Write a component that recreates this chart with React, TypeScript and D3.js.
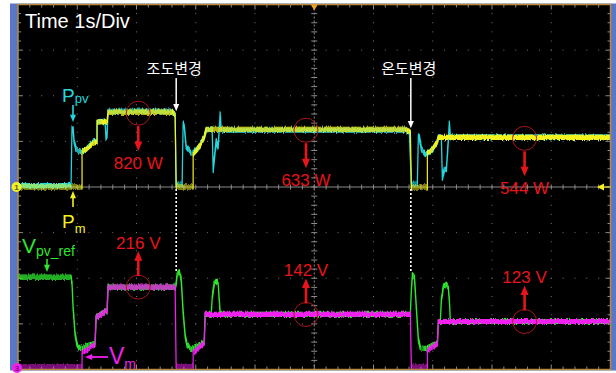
import React from 'react';
import * as d3 from 'd3';

// ---- Trace data: [time (s), value] ----
// P_pv (cyan), W
const ppvTrace: [number, number][] = [
  [0, 15], [0.895, 15], [0.912, 650], [0.93, 640], [0.946, 500], [0.98, 420], [1.047, 380],
  [1.081, 385], [1.166, 425], [1.267, 495], [1.334, 500], [1.334, 715], [1.47, 725],
  [1.486, 540], [1.503, 560], [1.52, 830], [2.6, 832], [2.652, 790], [2.669, 30],
  [2.77, 35], [2.787, 690], [2.804, 680], [2.838, 440], [2.92, 370], [2.956, 375],
  [3.04, 430], [3.142, 545], [3.176, 622], [3.277, 640], [3.294, 180], [3.328, 400],
  [3.345, 510], [3.378, 430], [3.412, 810], [3.429, 622], [6.537, 622], [6.605, 600],
  [6.639, 30], [6.74, 35], [6.757, 560], [6.774, 550], [6.808, 420], [6.875, 365],
  [6.909, 368], [6.99, 410], [7.078, 495], [7.095, 550], [7.145, 550], [7.162, 95],
  [7.196, 200], [7.23, 190], [7.264, 520], [7.28, 700], [7.297, 550], [10, 550],
];
// P_m (yellow), W
const pmTrace: [number, number][] = [
  [0, 0], [1.081, 0], [1.081, 380], [1.166, 420], [1.267, 480], [1.334, 490], [1.334, 710],
  [1.486, 720], [1.503, 722], [1.52, 820], [2.6, 820], [2.652, 795], [2.669, 0],
  [2.956, 0], [2.956, 360], [3.04, 420], [3.142, 540], [3.176, 633], [6.537, 633],
  [6.605, 610], [6.622, 600], [6.639, 0], [6.909, 0], [6.909, 368], [6.99, 410],
  [7.078, 500], [7.095, 544], [10, 544],
];
// V_pv_ref (green), V
const vrefTrace: [number, number][] = [
  [0, 243], [0.895, 243], [0.912, 225], [0.93, 160], [0.963, 90], [0.997, 60], [1.047, 50],
  [1.081, 52], [1.166, 58], [1.3, 64], [1.318, 134], [1.47, 152], [1.503, 152], [1.52, 216],
  [2.652, 216], [2.669, 225], [2.686, 250], [2.72, 258], [2.753, 240], [2.787, 150],
  [2.821, 85], [2.855, 58], [2.922, 50], [3.142, 66], [3.159, 142], [3.26, 142],
  [3.277, 185], [3.311, 225], [3.345, 232], [3.378, 226], [3.395, 185], [3.412, 142],
  [6.622, 142], [6.639, 210], [6.656, 250], [6.69, 243], [6.723, 160], [6.757, 75],
  [6.79, 52], [6.875, 50], [7.078, 65], [7.095, 123], [7.128, 123], [7.145, 180],
  [7.179, 218], [7.23, 224], [7.264, 215], [7.28, 180], [7.297, 123], [10, 123],
];
// V_m (magenta), V
const vmTrace: [number, number][] = [
  [0, 0], [1.081, 0], [1.081, 38], [1.3, 60], [1.318, 132], [1.47, 150], [1.503, 150],
  [1.52, 216], [2.652, 216], [2.669, 0], [2.956, 0], [2.956, 40], [3.142, 65],
  [3.159, 142], [6.622, 142], [6.639, 0], [6.909, 0], [6.909, 45], [7.078, 62],
  [7.095, 123], [10, 123],
];

// ---- Annotations ----
const stageTimes = [2.03, 4.86, 8.55];
const powerValues = [820, 633, 544];
const voltageValues = [216, 142, 123];
const eventTimes = [2.67, 6.63];
const eventLabels = ['조도변경', '온도변경'];
const timebaseLabel = 'Time 1s/Div';

// ---- Screen geometry ----
const W = 616;
const H = 373;
const PL = 18;
const PR = 610.5;
const PT = 4.5;
const PB = 369.5;
const DIV_X = 10;
const DIV_Y = 8;

const FONT = "'Liberation Sans', Arial, sans-serif";
const KFONT = "'Noto Sans CJK KR', sans-serif";

const C_YEL = '#f4f21c';
const C_CYAN = '#22d8de';
const C_GRN = '#2ee62e';
const C_MAG = '#f020f0';
const C_RED = '#e8141c';
const C_FRAME = '#b98a3c';

function Arrow({ x1, y1, x2, y2, color, w = 1.6, head = 6 }: any) {
  const ang = Math.atan2(y2 - y1, x2 - x1);
  const len = Math.hypot(x2 - x1, y2 - y1);
  const hl = head * 1.2;
  const bx = x2 - Math.cos(ang) * hl;
  const by = y2 - Math.sin(ang) * hl;
  const px = -Math.sin(ang) * head / 2;
  const py = Math.cos(ang) * head / 2;
  return (
    <g>
      <line x1={x1} y1={y1} x2={x1 + Math.cos(ang) * (len - hl + 1)} y2={y1 + Math.sin(ang) * (len - hl + 1)}
        stroke={color} strokeWidth={w} />
      <path d={`M${x2},${y2}L${bx + px},${by + py}L${bx - px},${by - py}Z`} fill={color} />
    </g>
  );
}

export default function App() {
  const x = d3.scaleLinear().domain([0, 10]).range([PL, PR]);
  // channel 1: 500 W/div, ground at screen centre
  const yP = d3.scaleLinear().domain([-2000, 2000]).range([PB, PT]);
  // channel 3: ground near bottom edge
  const yV = d3.scaleLinear().domain([0, 250]).range([367, 274.5]);

  const lineP = d3.line<[number, number]>().x(d => x(d[0])).y(d => yP(d[1]));
  const lineV = d3.line<[number, number]>().x(d => x(d[0])).y(d => yV(d[1]));

  const dx = (PR - PL) / DIV_X;
  const dy = (PB - PT) / DIV_Y;
  const cx = PL + dx * 5;
  const cy = PT + dy * 4;

  const dots: JSX.Element[] = [];
  for (let k = 1; k < DIV_X; k++) {
    if (k === 5) continue;
    for (let j = 1; j < DIV_Y * 5; j++) {
      dots.push(<rect key={`v${k}-${j}`} x={PL + k * dx - 0.5} y={PT + j * dy / 5 - 0.5} width={1} height={1} fill="#707070" />);
    }
  }
  for (let k = 1; k < DIV_Y; k++) {
    if (k === 4) continue;
    for (let j = 1; j < DIV_X * 5; j++) {
      dots.push(<rect key={`h${k}-${j}`} x={PL + j * dx / 5 - 0.5} y={PT + k * dy - 0.5} width={1} height={1} fill="#707070" />);
    }
  }

  const ticks: JSX.Element[] = [];
  for (let j = 1; j < DIV_X * 5; j++) {
    const xx = PL + j * dx / 5;
    const len = j % 5 === 0 ? 5 : 3;
    ticks.push(<line key={`tt${j}`} x1={xx} x2={xx} y1={PT} y2={PT + len} stroke="#8a8a8a" strokeWidth={1} />);
    ticks.push(<line key={`tb${j}`} x1={xx} x2={xx} y1={PB} y2={PB - len} stroke="#8a8a8a" strokeWidth={1} />);
    ticks.push(<line key={`tc${j}`} x1={xx} x2={xx} y1={cy - 2.5} y2={cy + 2.5} stroke="#8a8a8a" strokeWidth={1} />);
  }
  for (let j = 1; j < DIV_Y * 5; j++) {
    const yy = PT + j * dy / 5;
    const len = j % 5 === 0 ? 5 : 3;
    ticks.push(<line key={`tl${j}`} x1={PL} x2={PL + len} y1={yy} y2={yy} stroke="#8a8a8a" strokeWidth={1} />);
    ticks.push(<line key={`tr${j}`} x1={PR} x2={PR - len} y1={yy} y2={yy} stroke="#8a8a8a" strokeWidth={1} />);
    ticks.push(<line key={`tm${j}`} x1={cx - 3} x2={cx + 3} y1={yy} y2={yy} stroke="#8a8a8a" strokeWidth={1} />);
  }

  // persistence-style trace: thickened vertically, with fine vertical jitter
  const fuzz = (id: string, seed: number) => (
    <filter id={id} filterUnits="userSpaceOnUse" x={0} y={0} width={W} height={H} colorInterpolationFilters="sRGB">
      <feMorphology in="SourceGraphic" operator="dilate" radius="0 1.7" result="thick" />
      <feTurbulence type="fractalNoise" baseFrequency="0.9 0.03" numOctaves={2} seed={seed} result="noise" />
      <feColorMatrix in="noise" type="matrix" values="0 0 0 0 0.5  0 1 0 0 0  0 0 0 0 0  0 0 0 0 1" result="nmap" />
      <feDisplacementMap in="thick" in2="nmap" scale={4} xChannelSelector="R" yChannelSelector="G" />
    </filter>
  );

  return (
    <svg width={W} height={H} style={{ position: 'absolute', left: 0, top: 0, display: 'block' }}>
      <defs>
        {fuzz('fz1', 3)}
        {fuzz('fz2', 11)}
        {fuzz('fz3', 23)}
        {fuzz('fz4', 37)}
        <clipPath id="scr"><rect x={PL} y={PT} width={PR - PL} height={PB - PT} /></clipPath>
      </defs>
      <rect x={0} y={0} width={W} height={H} fill="#ffffff" />
      <rect x={10} y={PT - 1} width={W - 10} height={PB - PT + 2} fill="#5a76c6" />
      <rect x={PL} y={PT} width={PR - PL} height={PB - PT} fill="#000000" />

      {dots}
      <line x1={PL} x2={PR} y1={cy} y2={cy} stroke="#8a8a8a" strokeWidth={1} />
      <line x1={cx} x2={cx} y1={PT} y2={PB} stroke="#8a8a8a" strokeWidth={1} strokeDasharray="2 2" />
      {ticks}

      <g clipPath="url(#scr)" fill="none" strokeLinejoin="round">
        <path d={lineP(ppvTrace) ?? ''} stroke={C_CYAN} strokeWidth={1.2} filter="url(#fz1)" />
        <path d={lineP(pmTrace) ?? ''} stroke={C_YEL} strokeWidth={1.2} filter="url(#fz2)" />
        <path d={lineV(vrefTrace) ?? ''} stroke={C_GRN} strokeWidth={1.2} filter="url(#fz3)" />
        <path d={lineV(vmTrace) ?? ''} stroke={C_MAG} strokeWidth={1.2} filter="url(#fz4)" />
      </g>

      {/* event markers */}
      {eventTimes.map((t, i) => {
        const ex = x(t);
        return (
          <g key={`ev${i}`}>
            <text x={ex - 2} y={74} fill="#ffffff" fontFamily={KFONT} fontSize={15} textAnchor="middle">{eventLabels[i]}</text>
            <Arrow x1={ex} y1={78} x2={ex} y2={yP(powerValues[i]) - 1} color="#ffffff" w={1.5} head={6} />
            <line x1={ex} x2={ex} y1={189} y2={272} stroke="#ffffff" strokeWidth={1.6} strokeDasharray="2 2" />
          </g>
        );
      })}

      {/* steady-state readings */}
      {stageTimes.map((t, i) => {
        const px = x(t);
        const py = yP(powerValues[i]);
        const vx = x(t);
        const vy = yV(voltageValues[i]);
        return (
          <g key={`st${i}`}>
            <circle cx={px} cy={py + 1} r={12} fill="none" stroke="#a8161c" strokeWidth={1} />
            <Arrow x1={px} y1={py + 14} x2={px} y2={py + 39} color={C_RED} w={2.6} head={8} />
            <text x={px} y={py + 57} fill={C_RED} fontFamily={FONT} fontSize={17} textAnchor="middle">{`${powerValues[i]} W`}</text>
            <circle cx={vx} cy={vy} r={12} fill="none" stroke="#a8161c" strokeWidth={1} />
            <Arrow x1={vx} y1={vy - 11} x2={vx} y2={vy - 36} color={C_RED} w={2.6} head={8} />
            <text x={vx} y={vy - 38} fill={C_RED} fontFamily={FONT} fontSize={17} textAnchor="middle">{`${voltageValues[i]} V`}</text>
          </g>
        );
      })}

      {/* trace names */}
      <text x={62} y={102} fill={C_CYAN} fontFamily={FONT} fontSize={19}>P<tspan fontSize={13} dy={1}>pv</tspan></text>
      <Arrow x1={73} y1={105} x2={73} y2={122} color={C_CYAN} w={1.6} head={6} />
      <text x={62} y={228} fill={C_YEL} fontFamily={FONT} fontSize={19}>P<tspan fontSize={13} dy={5}>m</tspan></text>
      <Arrow x1={73} y1={207} x2={73} y2={191} color={C_YEL} w={1.6} head={6} />
      <text x={22} y={253} fill={C_GRN} fontFamily={FONT} fontSize={21}>V<tspan fontSize={14} dy={3}>pv_ref</tspan></text>
      <Arrow x1={47} y1={259} x2={47} y2={272} color={C_GRN} w={1.6} head={6} />
      <text x={109} y={364} fill={C_MAG} fontFamily={FONT} fontSize={23}>V<tspan fontSize={14} dy={5}>m</tspan></text>
      <Arrow x1={108} y1={357} x2={85} y2={357} color={C_MAG} w={1.8} head={6} />

      <text x={25} y={27.5} fill="#ffffff" fontFamily={FONT} fontSize={20}>{timebaseLabel}</text>

      {/* frame and channel markers */}
      <rect x={PL} y={PT} width={PR - PL} height={PB - PT} fill="none" stroke={C_FRAME} strokeWidth={1.5} />
      <path d={`M${cx - 3.5},${PT}L${cx + 3.5},${PT}L${cx},${PT + 6}Z`} fill="#f0a020" />
      <circle cx={16.5} cy={yP(0)} r={5} fill={C_YEL} />
      <text x={16.5} y={yP(0) + 3} fill="#555" fontFamily={FONT} fontSize={8} fontWeight="bold" textAnchor="middle">1</text>
      <circle cx={17} cy={368} r={5} fill={C_MAG} />
      <text x={17} y={371} fill="#7a1070" fontFamily={FONT} fontSize={8} fontWeight="bold" textAnchor="middle">3</text>
      <path d={`M597,${yP(0)}L604,${yP(0) - 3.5}L604,${yP(0) + 3.5}Z`} fill={C_YEL} />
      <line x1={603} x2={PR} y1={yP(0)} y2={yP(0)} stroke={C_YEL} strokeWidth={1} />
    </svg>
  );
}
